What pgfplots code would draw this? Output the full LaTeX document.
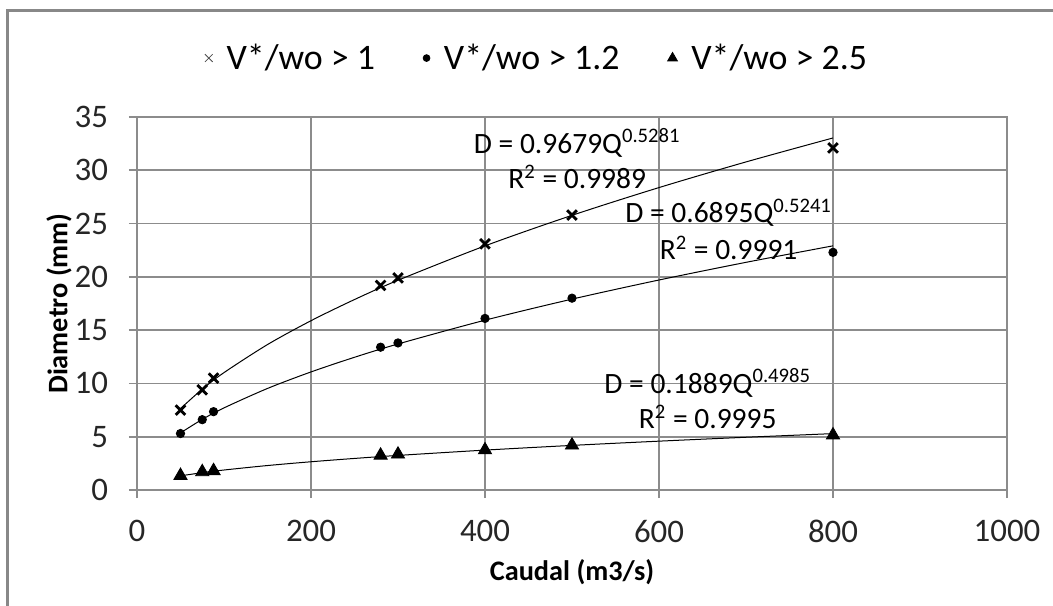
\documentclass[border=0pt]{standalone}
\usepackage{pgfplots}
\pgfplotsset{compat=1.18}
\usepackage{fontspec}
\setmainfont{Carlito}
\definecolor{gridgray}{HTML}{8C8C8C}
\definecolor{framegray}{HTML}{888888}
\begin{document}
\begin{tikzpicture}
\useasboundingbox (-68.5bp,-58bp) rectangle (458bp,245bp);
\draw[framegray, line width=1.5bp] (-64.5bp,-80bp) -- (-64.5bp,239.5bp) -- (480bp,239.5bp);
\begin{axis}[
  at={(0,0)}, anchor=south west,
  scale only axis, width=435bp, height=186.5bp,
  xmin=0, xmax=1000, ymin=0, ymax=35,
  xtick={0,200,...,1000}, ytick={0,5,...,35},
  grid=major,
  grid style={gridgray, line width=0.8bp},
  axis line style={gridgray, line width=0.8bp},
  tick style={gridgray, line width=0.8bp},
  tick align=outside, major tick length=4bp,
  xtick pos=left, ytick pos=left,
  /pgf/number format/assume math mode=true,
  /pgf/number format/1000 sep={},
  ticklabel style={font=\fontsize{16.5}{18}\selectfont, text=black!85},
  xticklabel style={yshift=-7.5bp},
  yticklabel style={xshift=-7bp},
  xlabel={\textbf{Caudal (m3/s)}},
  ylabel={\textbf{Diametro (mm)}},
  label style={font=\fontsize{14.2}{16}\selectfont},
  xlabel style={at={(axis description cs:0.5,-0.22)}, anchor=center},
  ylabel style={at={(axis description cs:-0.0897,0.5)}, anchor=center},
  legend columns=-1,
  legend style={draw=none, fill=none, at={(0.461,1.158)}, anchor=center,
    font=\fontsize{18}{20}\selectfont,
    /tikz/every odd column/.append style={column sep=5bp},
    /tikz/every even column/.append style={column sep=22bp}},
  legend cell align=left,
]
% trendlines
\addplot[black, line width=0.5bp, smooth, forget plot] coordinates {
(50,7.639)(75,9.463)(100,11.016)(150,13.647)(200,15.885)(250,17.872)(300,19.680)(400,22.907)(500,25.772)(600,28.378)(700,30.784)(800,33.034)};
\addplot[black, line width=0.5bp, smooth, forget plot] coordinates {
(50,5.358)(75,6.626)(100,7.705)(150,9.529)(200,11.079)(250,12.454)(300,13.703)(400,15.933)(500,17.910)(600,19.705)(700,21.363)(800,22.911)};
\addplot[black, line width=0.5bp, smooth, forget plot] coordinates {
(50,1.328)(75,1.625)(100,1.876)(150,2.296)(200,2.650)(250,2.962)(300,3.244)(400,3.744)(500,4.185)(600,4.583)(700,4.949)(800,5.290)};
% data
\addplot[only marks, mark=x, mark size=3.4bp, black, line width=1.4bp,
  legend image code/.code={\draw[mark size=2.7bp, line width=0.4bp, black!70] plot coordinates {(0bp,0bp)};}]
 coordinates {(50,7.5)(75,9.4)(88,10.5)(280,19.2)(300,19.9)(400,23.1)(500,25.8)(800,32.1)};
\addlegendentry{V*/wo > 1}
\addplot[only marks, mark=*, mark size=2.1bp, black,
  legend image code/.code={\draw[mark size=1.7bp] plot coordinates {(0bp,0bp)};}]
 coordinates {(50,5.3)(75,6.6)(88,7.35)(280,13.4)(300,13.8)(400,16.1)(500,18.0)(800,22.3)};
\addlegendentry{V*/wo > 1.2}
\addplot[only marks, mark=triangle*, mark size=3.8bp, black,
  legend image code/.code={\draw[mark size=2.8bp] plot coordinates {(0bp,0bp)};}]
 coordinates {(50,1.35)(75,1.7)(88,1.8)(280,3.25)(300,3.35)(400,3.75)(500,4.2)(800,5.15)};
\addlegendentry{V*/wo > 2.5}
% equations
\node[font=\fontsize{14.8}{16}\selectfont, inner sep=0pt] at (axis cs:506,32.56) {D = 0.9679Q\textsuperscript{0.5281}};
\node[font=\fontsize{14.8}{16}\selectfont, inner sep=0pt] at (axis cs:506,29.37) {R\textsuperscript{2} = 0.9989};
\node[font=\fontsize{14.8}{16}\selectfont, inner sep=0pt] at (axis cs:680,25.99) {D = 0.6895Q\textsuperscript{0.5241}};
\node[font=\fontsize{14.8}{16}\selectfont, inner sep=0pt] at (axis cs:680,22.7) {R\textsuperscript{2} = 0.9991};
\node[font=\fontsize{14.8}{16}\selectfont, inner sep=0pt] at (axis cs:656,10.04) {D = 0.1889Q\textsuperscript{0.4985}};
\node[font=\fontsize{14.8}{16}\selectfont, inner sep=0pt] at (axis cs:656,6.85) {R\textsuperscript{2} = 0.9995};
\end{axis}
\end{tikzpicture}
\end{document}
